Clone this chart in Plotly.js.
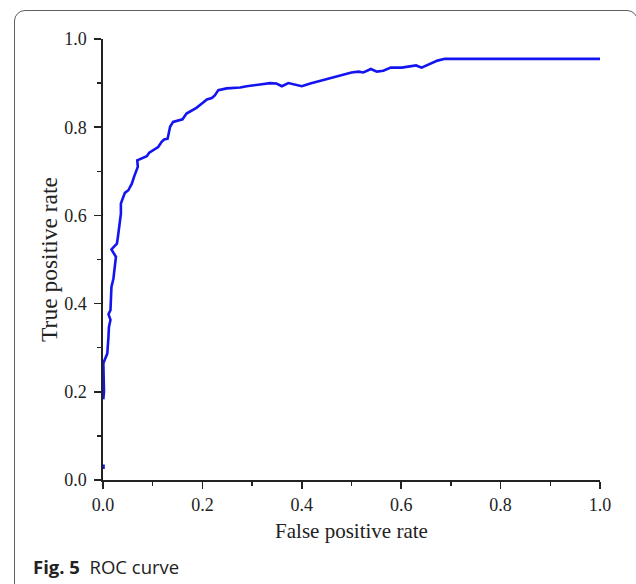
<!DOCTYPE html>
<html>
<head>
<meta charset="utf-8">
<script src="https://cdn.plot.ly/plotly-3.0.1.min.js"></script>
<style>
  html, body { margin: 0; padding: 0; background: #fff; overflow: hidden; }
  #wrap { position: relative; width: 636px; height: 584px; overflow: hidden; }
  #chart { position: absolute; left: 0; top: 0; width: 636px; height: 584px; }
  #frame { position: absolute; left: 14px; top: 10px; width: 624px; height: 620px;
           border: 1.5px solid #606060; border-radius: 11px; box-sizing: border-box; pointer-events: none; }
</style>
</head>
<body>
<div id="wrap">
  <div id="chart"></div>
  <div id="frame"></div>
</div>
<script>
// False positive rate (x) and true positive rate (y)
const fpr = [0.001, 0.001, null,
  0.0006, 0.002, 0.0007, 0.0087, 0.011, 0.012, 0.015, 0.011, 0.015, 0.016, 0.017, 0.021, 0.024, 0.026,
  0.017, 0.023, 0.028, 0.030, 0.032, 0.034, 0.036, 0.036, 0.039, 0.044, 0.051, 0.058, 0.063, 0.067,
  0.070, 0.069, 0.078, 0.088, 0.093, 0.101, 0.111, 0.118, 0.123, 0.130, 0.135, 0.141, 0.151, 0.160,
  0.168, 0.178, 0.188, 0.199, 0.209, 0.219, 0.225, 0.232, 0.249, 0.276, 0.289, 0.316, 0.336, 0.349,
  0.360, 0.373, 0.386, 0.400, 0.417, 0.437, 0.450, 0.463, 0.483, 0.500, 0.514, 0.524, 0.539, 0.551,
  0.564, 0.579, 0.601, 0.618, 0.630, 0.641, 0.658, 0.673, 0.688, 0.718, 1.0];
const tpr = [0.025, 0.035, null,
  0.183, 0.200, 0.265, 0.287, 0.325, 0.347, 0.363, 0.376, 0.385, 0.400, 0.438, 0.457, 0.483, 0.506,
  0.523, 0.529, 0.536, 0.551, 0.570, 0.585, 0.604, 0.627, 0.638, 0.651, 0.657, 0.672, 0.689, 0.699,
  0.710, 0.725, 0.729, 0.734, 0.742, 0.748, 0.755, 0.767, 0.772, 0.774, 0.801, 0.812, 0.816, 0.818,
  0.831, 0.838, 0.844, 0.854, 0.863, 0.866, 0.872, 0.884, 0.888, 0.890, 0.893, 0.897, 0.900, 0.899,
  0.893, 0.900, 0.897, 0.893, 0.899, 0.905, 0.909, 0.912, 0.918, 0.924, 0.926, 0.924, 0.932, 0.926,
  0.928, 0.935, 0.935, 0.937, 0.940, 0.935, 0.943, 0.951, 0.955, 0.955, 0.955];

const tickVals = [0, 0.2, 0.4, 0.6, 0.8, 1.0];
const tickText = ["0.0", "0.2", "0.4", "0.6", "0.8", "1.0"];
const xTitle = "False positive rate";
const yTitle = "True positive rate";
const captionText = "<b>Fig. 5</b>  ROC curve";

const serif = "Liberation Serif, Times New Roman, serif";

const trace = {
  x: fpr, y: tpr, type: "scatter", mode: "lines",
  line: { color: "#1414f0", width: 2.6 },
  connectgaps: false, hoverinfo: "skip"
};

const axisCommon = {
  range: [0, 1], autorange: false, showgrid: false, zeroline: false,
  showline: true, linecolor: "#222", linewidth: 1.6,
  ticks: "outside", ticklen: 7, tickwidth: 1.5, tickcolor: "#222",
  tickvals: tickVals, ticktext: tickText,
  tickfont: { family: serif, size: 18, color: "#222" },
  minor: { dtick: 0.1, tick0: 0, ticks: "outside", ticklen: 4, tickwidth: 1.5, tickcolor: "#222", showgrid: false }
};

const layout = {
  width: 636, height: 584,
  margin: { l: 103, r: 36, t: 39, b: 104 },
  paper_bgcolor: "#fff", plot_bgcolor: "#fff",
  showlegend: false,
  xaxis: Object.assign({}, axisCommon, {
    ticklabelstandoff: 1,
    title: { text: xTitle, font: { family: serif, size: 21, color: "#222" }, standoff: 9 }
  }),
  yaxis: Object.assign({}, axisCommon, {
    ticklabelstandoff: 4,
    title: { text: yTitle, font: { family: serif, size: 23.5, color: "#222" }, standoff: 0 }
  }),
  annotations: [{
    text: captionText, xref: "paper", yref: "paper",
    x: -0.1449, y: -0.197, xanchor: "left", yanchor: "middle", showarrow: false,
    font: { family: "Open Sans, Noto Sans, sans-serif", size: 18.5, color: "#222" }
  }]
};

Plotly.newPlot("chart", [trace], layout, { staticPlot: true, displayModeBar: false });
</script>
</body>
</html>
